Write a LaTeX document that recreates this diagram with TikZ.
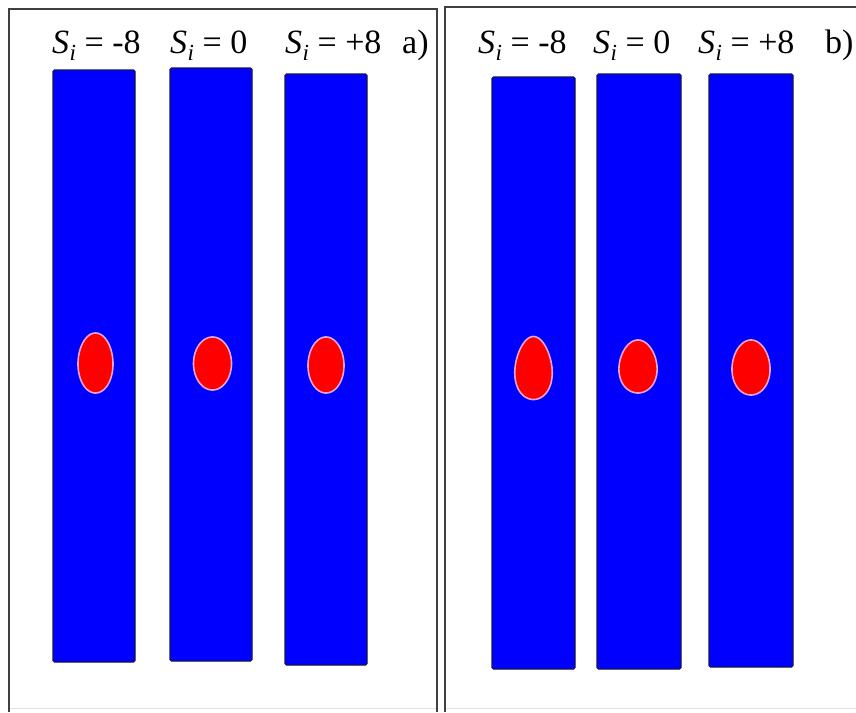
\documentclass[tikz,border=0pt]{standalone}
\usepackage{fontspec}
\setmainfont{Liberation Serif}
\definecolor{framegray}{RGB}{64,64,64}
\definecolor{faintgray}{RGB}{225,225,225}
\definecolor{colblue}{RGB}{0,0,255}
\definecolor{coledge}{RGB}{20,20,90}
\definecolor{dropred}{RGB}{255,0,0}
\definecolor{droprim}{RGB}{225,165,205}
\newcommand\Si{\textit{S}\kern0.5pt\raisebox{-0.22em}{\fontsize{23}{23}\selectfont\textit{i}}}
\tikzset{
  frameline/.style={draw=framegray, line width=1.5pt},
  faintline/.style={draw=faintgray, line width=1pt},
  column/.style={fill=colblue, draw=coledge, line width=1.2pt, rounded corners=1.5pt},
  drop/.style={fill=dropred, draw=droprim, line width=1.6pt},
  lbl/.style={anchor=base west, inner sep=0pt, font=\fontsize{34}{40}\selectfont}
}
\newcommand\egg[5]{%
  \path[drop] plot[domain=0:360, samples=90, smooth cycle, variable=\t]
    ({#1 + #3*cos(\t)*(1+#5*sin(\t))}, {#2 + #4*sin(\t)});}
\begin{document}
\begin{tikzpicture}[x=1pt, y=-1pt]
\useasboundingbox[fill=white] (0,0) rectangle (856,712);
% panel frames
\draw[faintline] (9,708) -- (437,708);
\draw[faintline] (445,708) -- (856,708);
\draw[frameline] (9,712) -- (9,9) -- (437,9) -- (437,712);
\draw[frameline] (445,712) -- (445,7) -- (856,7);
% left panel columns
\draw[column] (53,70) rectangle (135,662);
\draw[column] (170,68) rectangle (252,661);
\draw[column] (285,74) rectangle (367,665);
% right panel columns
\draw[column] (492,77) rectangle (575,669);
\draw[column] (597,74) rectangle (681,669);
\draw[column] (709,74) rectangle (793,667);
% drops
\egg{95.5}{363}{17.5}{30}{0.03}
\egg{212.5}{363.5}{19}{26.5}{0}
\egg{326}{365}{18}{28}{0.02}
\egg{533.5}{368}{18.5}{31.5}{0.16}
\egg{638}{366.5}{19}{26.5}{0.1}
\egg{751}{367.5}{19}{27.5}{0.06}
% labels
\node[lbl] (la1) at (52,53) {\Si{} = -8};
\node[lbl] (la2) at (170,53) {\Si{} = 0};
\node[lbl] (la3) at (285,53) {\Si{} = +8};
\node[lbl] (la4) at (402,53) {a)};
\node[lbl] (lb1) at (478,53) {\Si{} = -8};
\node[lbl] (lb2) at (593,53) {\Si{} = 0};
\node[lbl] (lb3) at (698,53) {\Si{} = +8};
\node[lbl] (lb4) at (825,53) {b)};
\end{tikzpicture}
\end{document}
